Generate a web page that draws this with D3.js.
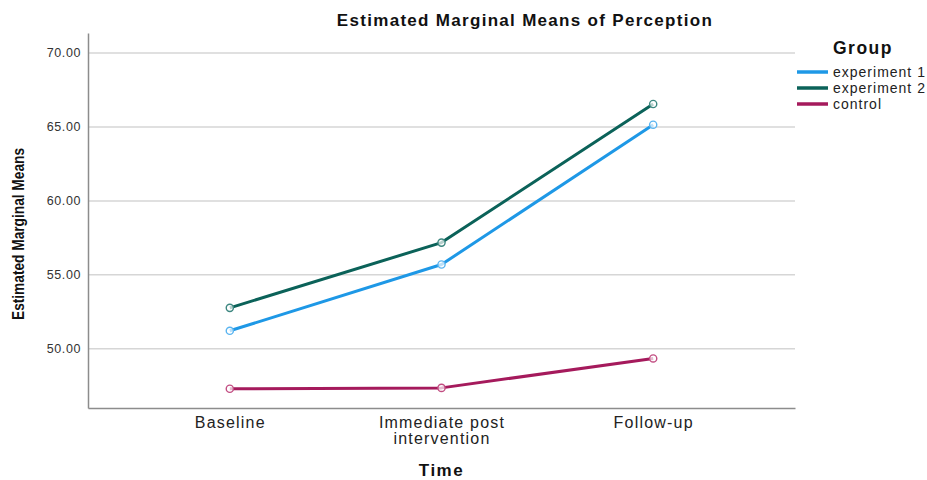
<!DOCTYPE html>
<html><head><meta charset="utf-8">
<script src="https://cdn.jsdelivr.net/npm/d3@7"></script>
<style>body{margin:0;background:#fff;} svg{display:block;font-family:"Liberation Sans",Arial,sans-serif;}</style>
</head><body><svg id="c" width="927" height="480"></svg>
<script>
const categories = ["Baseline", "Immediate post intervention", "Follow-up"];
const seriesNames = ["experiment 1", "experiment 2", "control"];
const exp1 = [51.22, 55.70, 65.15];
const exp2 = [52.77, 57.18, 66.55];
const control = [47.30, 47.36, 49.35];
const yTicks = [50, 55, 60, 65, 70];
const colors = ["#1e98e6", "#0b6259", "#a51a5c"];
const pointColors = ["#5ab4f0", "#3d8780", "#c24d82"];

const svg = d3.select("#c");
const L = 88, R = 795, T = 33, B = 408;
const x = d3.scalePoint().domain(categories).range([L, R]).padding(0.67);
const y = d3.scaleLinear().domain([46.0, 71.35]).range([B, T]);

// gridlines
svg.append("g").selectAll("line").data(yTicks).join("line")
  .attr("x1", L).attr("x2", R).attr("y1", d => y(d)).attr("y2", d => y(d))
  .attr("stroke", "#d6d6d6").attr("stroke-width", 1.5);

// y axis
const ya = svg.append("g").attr("transform", `translate(${L},0)`)
  .call(d3.axisLeft(y).tickValues(yTicks).tickFormat(d3.format(".2f")).tickSize(0).tickPadding(7));
ya.select(".domain").attr("stroke", "#8c8c8c").attr("stroke-width", 1.5);
ya.selectAll("text").attr("font-size", 12.5).attr("fill", "#333").attr("letter-spacing", 0.6)
  .attr("font-family", "Liberation Sans, Arial, sans-serif");

// x axis
const xa = svg.append("g").attr("transform", `translate(0,${B})`)
  .call(d3.axisBottom(x).tickSize(0).tickPadding(9));
xa.select(".domain").attr("stroke", "#8c8c8c").attr("stroke-width", 1.5);
xa.selectAll("text").attr("font-size", 16).attr("fill", "#222").attr("letter-spacing", 1.2)
  .attr("font-family", "Liberation Sans, Arial, sans-serif")
  .each(function(d){
    const t = d3.select(this); t.text(null);
    const parts = d === "Immediate post intervention" ? ["Immediate post", "intervention"] : [d];
    parts.forEach((p,i) => t.append("tspan").attr("x", 0).attr("dy", i ? 16 : "0.71em").text(p));
  });

// lines
const data = [exp1, exp2, control];
const line = d3.line().x((d,i) => x(categories[i])).y(d => y(d));
data.forEach((s, k) => {
  svg.append("path").datum(s).attr("d", line).attr("fill", "none")
    .attr("stroke", colors[k]).attr("stroke-width", 3).attr("stroke-linejoin", "round");
});
data.forEach((s, k) => {
  svg.append("g").selectAll("circle").data(s).join("circle")
    .attr("cx", (d,i) => x(categories[i])).attr("cy", d => y(d)).attr("r", 3.6)
    .attr("fill", "#fff").attr("fill-opacity", 0.7).attr("stroke", pointColors[k]).attr("stroke-width", 1.4);
});

// title
svg.append("text").attr("x", 525).attr("y", 26).attr("text-anchor", "middle")
  .attr("font-size", 17).attr("font-weight", "bold").attr("fill", "#111").attr("letter-spacing", 1.3)
  .text("Estimated Marginal Means of Perception");

// y title
svg.append("text").attr("transform", "translate(24,234) rotate(-90)").attr("text-anchor", "middle")
  .attr("font-size", 16).attr("font-weight", "bold").attr("fill", "#111")
  .attr("textLength", 172).attr("lengthAdjust", "spacingAndGlyphs")
  .text("Estimated Marginal Means");

// x title
svg.append("text").attr("x", x(categories[1])).attr("y", 476).attr("text-anchor", "middle")
  .attr("font-size", 17).attr("font-weight", "bold").attr("fill", "#111").attr("letter-spacing", 1.5).text("Time");

// legend
svg.append("text").attr("x", 833).attr("y", 54).attr("font-size", 17.5).attr("font-weight", "bold")
  .attr("fill", "#111").attr("letter-spacing", 1.5).text("Group");
const lg = svg.append("g").selectAll("g").data(seriesNames).join("g")
  .attr("transform", (d,i) => `translate(797,${72 + i*16})`);
lg.append("line").attr("x1", 0).attr("x2", 31).attr("stroke", (d,i) => colors[i]).attr("stroke-width", 3.5);
lg.append("text").attr("x", 36).attr("dy", "0.35em").attr("font-size", 14).attr("fill", "#222")
  .attr("letter-spacing", 1).text(d => d);
</script></body></html>
